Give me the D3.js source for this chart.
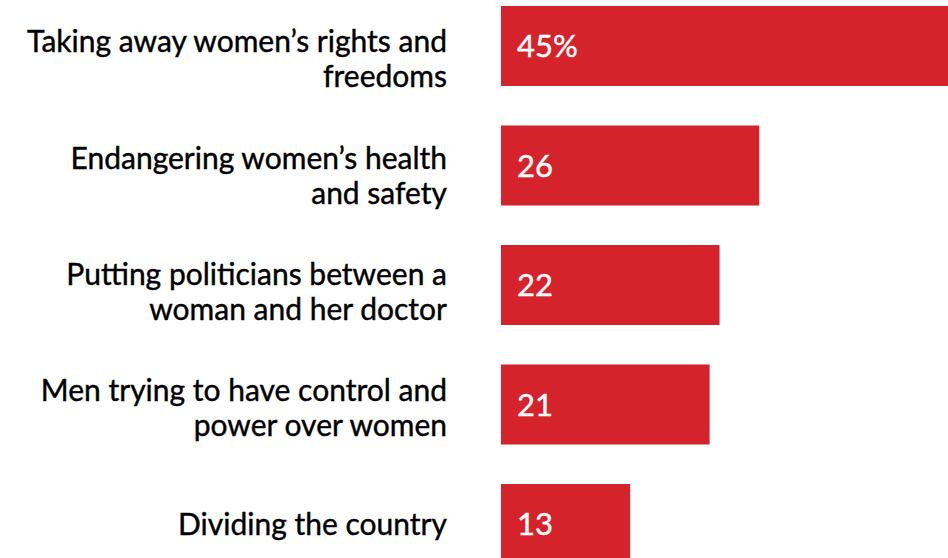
<!DOCTYPE html>
<html>
<head>
<meta charset="utf-8">
<script src="https://cdn.jsdelivr.net/npm/d3@7"></script>
<style>
  html, body { margin: 0; padding: 0; background: #fff; }
  svg { display: block; }
</style>
</head>
<body>
<svg id="chart" width="948" height="558"></svg>
<script>
const categories = [
  "Taking away women’s rights and freedoms",
  "Endangering women’s health and safety",
  "Putting politicians between a woman and her doctor",
  "Men trying to have control and power over women",
  "Dividing the country"
];
const labelLines = [
  ["Taking away women’s rights and", "freedoms"],
  ["Endangering women’s health", "and safety"],
  ["Putting politicians between a", "woman and her doctor"],
  ["Men trying to have control and", "power over women"],
  ["Dividing the country"]
];
const values = [45, 26, 22, 21, 13];
const valueLabels = ["45%", "26", "22", "21", "13"];

const svg = d3.select("#chart");
const font = "Lato, 'Noto Sans', sans-serif";

const x = d3.scaleLinear().domain([0, 45]).range([501, 948]);
const y = d3.scaleBand().domain(categories).range([6, 564]).paddingInner(0.3305).paddingOuter(0);
const yLabel = d3.scalePoint().domain(categories).range([59, 524]);

svg.selectAll("rect.bar")
  .data(categories)
  .join("rect")
  .attr("class", "bar")
  .attr("x", x(0))
  .attr("y", d => y(d))
  .attr("width", (d, i) => x(values[i]) - x(0))
  .attr("height", y.bandwidth())
  .attr("fill", "#d4232a");

svg.selectAll("text.val")
  .data(categories)
  .join("text")
  .attr("class", "val")
  .attr("x", x(0) + 16)
  .attr("y", d => y(d) + y.bandwidth() / 2)
  .attr("dy", "0.36em")
  .attr("fill", "#fff")
  .attr("stroke", "#fff")
  .attr("stroke-width", 0.4)
  .style("font-family", font)
  .style("font-size", "31px")
  .text((d, i) => valueLabels[i]);

const lineH = 35;
const labels = svg.selectAll("text.lab")
  .data(categories)
  .join("text")
  .attr("class", "lab")
  .attr("text-anchor", "end")
  .attr("fill", "#000")
  .attr("stroke", "#000")
  .attr("stroke-width", 0.4)
  .style("font-family", font)
  .style("font-size", "30px");

labels.each(function(d, i) {
  const lines = labelLines[i];
  const n = lines.length;
  const c = yLabel(d);
  d3.select(this).selectAll("tspan")
    .data(lines)
    .join("tspan")
    .attr("x", 447)
    .attr("y", (l, j) => c + (j - (n - 1) / 2) * lineH)
    .attr("dy", "0.36em")
    .text(l => l);
});
</script>
</body>
</html>
